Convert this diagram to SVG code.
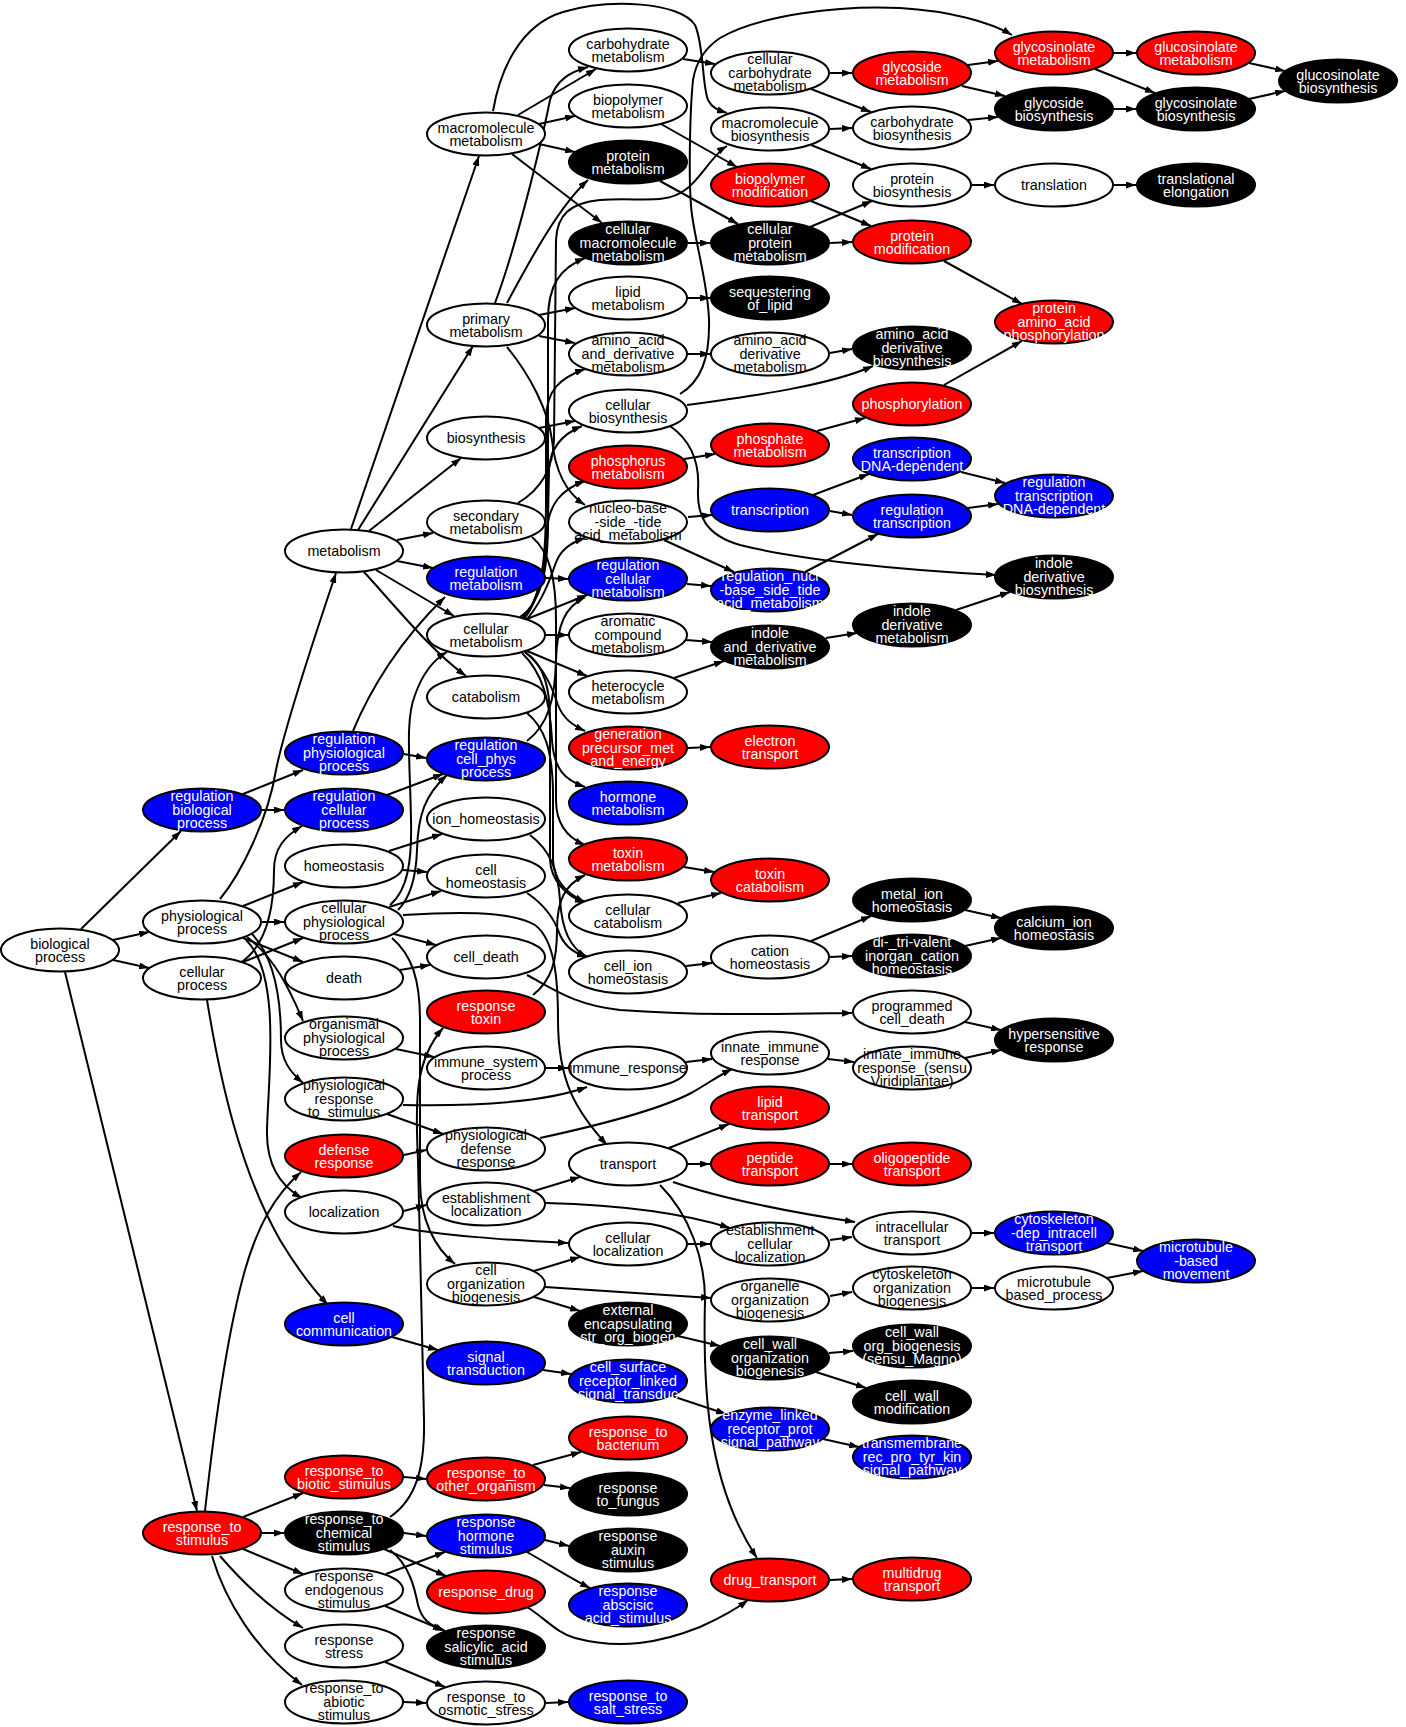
<svg xmlns="http://www.w3.org/2000/svg" width="1406" height="1727" viewBox="0 0 1406 1727">
<defs>
<marker id="ah" viewBox="0 0 10 7" refX="10" refY="3.5" markerWidth="10" markerHeight="7" orient="auto" markerUnits="userSpaceOnUse"><path d="M0,0 L10,3.5 L0,7 z" fill="#000"/></marker>
</defs>
<style>
.e path{fill:none;stroke:#000;stroke-width:2;marker-end:url(#ah)}
ellipse{stroke:#000;stroke-width:2}
.w ellipse{fill:#fff}.r ellipse{fill:#f00}.b ellipse{fill:#00f}.k ellipse{fill:#000}
text{font-family:"Liberation Sans",Arial,sans-serif;font-size:14.3px;text-anchor:middle}
.w text{fill:#000}.r text,.b text,.k text{fill:#fff}
</style>
<rect width="1406" height="1727" fill="#fff"/>
<g id="edges" class="e">
<path d="M81,929 L181,831"/>
<path d="M113,940 L149,932"/>
<path d="M113,960 L149,968"/>
<path d="M65,972 L197,1511"/>
<path d="M243,794 L303,770"/>
<path d="M262,810 L284,810"/>
<path d="M220,899 C240,875 268,820 276,770 C282,740 300,680 336,573"/>
<path d="M243,906 L303,882"/>
<path d="M262,922 L284,922"/>
<path d="M243,938 L303,962"/>
<path d="M247,937 C275,958 290,990 303,1021"/>
<path d="M252,934 C272,955 281,990 281,1040 C281,1060 290,1072 303,1083"/>
<path d="M246,940 C282,975 268,1080 267,1130 C266,1170 284,1188 302,1198"/>
<path d="M243,962 L303,938"/>
<path d="M240,963 C268,945 274,905 274,870 C274,848 285,836 302,826"/>
<path d="M207,1000 C220,1080 240,1170 280,1240 C295,1265 312,1288 328,1305"/>
<path d="M205,1511 C215,1420 228,1330 245,1270 C258,1225 275,1195 301,1172"/>
<path d="M389,851 L442,834"/>
<path d="M403,870 L427,872"/>
<path d="M389,907 L441,891"/>
<path d="M394,934 L436,945"/>
<path d="M390,905 C408,890 412,860 411,820 C410,760 405,720 415,695 C422,675 433,660 447,652"/>
<path d="M392,938 C412,955 420,980 420,1020 L420,1180 C420,1220 435,1248 455,1264"/>
<path d="M403,915 C450,912 510,910 535,925 C555,940 558,980 558,1020 C558,1080 575,1110 607,1145"/>
<path d="M400,970 L430,965"/>
<path d="M396,1049 L434,1057"/>
<path d="M403,1105 C460,1106 540,1104 587,1087"/>
<path d="M387,1114 L443,1134"/>
<path d="M404,1155 L426,1150"/>
<path d="M404,1211 L426,1205"/>
<path d="M393,1226 C440,1236 510,1240 568,1243"/>
<path d="M534,1191 L580,1177"/>
<path d="M546,1203 C620,1205 680,1212 730,1228"/>
<path d="M688,1244 L710,1244"/>
<path d="M534,1271 L580,1257"/>
<path d="M545,1287 L711,1298"/>
<path d="M534,1297 L580,1311"/>
<path d="M678,1336 L720,1346"/>
<path d="M829,1353 L853,1351"/>
<path d="M816,1372 L866,1388"/>
<path d="M392,1337 L438,1350"/>
<path d="M543,1370 L571,1374"/>
<path d="M672,1396 L726,1414"/>
<path d="M823,1439 L859,1447"/>
<path d="M243,1517 L303,1493"/>
<path d="M262,1533 L284,1533"/>
<path d="M243,1549 L303,1574"/>
<path d="M220,1556 C245,1585 272,1610 303,1628"/>
<path d="M212,1556 C225,1600 255,1650 302,1685"/>
<path d="M404,1477 L426,1479"/>
<path d="M533,1465 L581,1452"/>
<path d="M544,1485 L570,1488"/>
<path d="M404,1533 L426,1536"/>
<path d="M384,1549 L446,1576"/>
<path d="M390,1550 C410,1565 415,1590 418,1605 C422,1620 430,1625 443,1630"/>
<path d="M390,1517 C415,1500 425,1470 424,1420 L418,1160 C415,1100 415,1060 443,1028"/>
<path d="M386,1574 L445,1552"/>
<path d="M385,1606 L445,1631"/>
<path d="M385,1662 L445,1687"/>
<path d="M404,1702 L426,1703"/>
<path d="M546,1703 L568,1702"/>
<path d="M545,1540 L569,1546"/>
<path d="M527,1552 C550,1565 570,1578 590,1588"/>
<path d="M527,1607 C545,1618 555,1632 575,1638 C620,1650 660,1643 700,1627 C720,1618 735,1610 748,1600"/>
<path d="M830,1580 L852,1579"/>
<path d="M660,1185 C690,1215 705,1260 705,1300 C703,1380 705,1480 757,1558"/>
<path d="M669,1148 L729,1124"/>
<path d="M688,1164 L710,1164"/>
<path d="M673,1182 C720,1198 790,1212 855,1222"/>
<path d="M830,1164 L852,1164"/>
<path d="M830,1240 L852,1237"/>
<path d="M972,1233 L994,1233"/>
<path d="M1107,1243 L1143,1251"/>
<path d="M830,1296 L852,1292"/>
<path d="M972,1288 L994,1288"/>
<path d="M1107,1278 L1143,1271"/>
<path d="M546,1068 L568,1068"/>
<path d="M686,1062 L712,1059"/>
<path d="M540,1138 C600,1125 660,1110 693,1092 C710,1082 720,1075 732,1069"/>
<path d="M828,1059 L854,1062"/>
<path d="M965,1058 L1001,1050"/>
<path d="M965,1022 L1001,1030"/>
<path d="M527,975 C555,990 575,1005 620,1010 C700,1016 780,1014 852,1013"/>
<path d="M527,893 C545,905 555,920 560,935 C566,948 575,953 587,957"/>
<path d="M530,835 C550,850 558,870 560,900 C562,930 570,948 587,957"/>
<path d="M686,966 L712,963"/>
<path d="M811,941 L871,916"/>
<path d="M830,957 L852,956"/>
<path d="M965,910 L1001,918"/>
<path d="M965,946 L1001,938"/>
<path d="M684,867 L714,872"/>
<path d="M678,903 L721,893"/>
<path d="M527,713 C545,728 552,750 553,790 L553,860 C554,880 565,893 585,902"/>
<path d="M525,652 C545,665 550,690 550,720 L550,860 C551,880 565,895 585,903"/>
<path d="M533,995 C552,980 557,960 557,930 C557,900 565,885 585,875"/>
<path d="M518,115 L596,69"/>
<path d="M539,124 L575,116"/>
<path d="M539,144 L575,152"/>
<path d="M512,154 L602,223"/>
<path d="M493,111 C500,70 520,25 563,12 C610,-2 680,2 695,25 C704,45 702,85 708,100 C712,108 718,110 727,113"/>
<path d="M495,303 C515,250 540,150 550,100 C556,80 570,72 588,67"/>
<path d="M507,303 C530,260 560,205 588,180"/>
<path d="M539,315 L575,308"/>
<path d="M539,336 L575,343"/>
<path d="M507,347 C530,375 548,410 552,440 C555,470 565,492 585,505"/>
<path d="M539,428 L575,421"/>
<path d="M518,503 C540,490 553,470 554,440 L556,240 C557,215 570,203 600,200 C640,197 665,205 685,190 C700,180 712,155 727,146"/>
<path d="M680,394 C700,382 710,360 709,320 C708,285 697,250 692,215 C688,185 690,110 693,80 C696,62 705,48 720,38 C760,15 840,5 900,8 C950,11 990,22 1012,35"/>
<path d="M683,59 L715,64"/>
<path d="M661,124 L737,167"/>
<path d="M660,181 L738,224"/>
<path d="M688,243 L710,243"/>
<path d="M688,298 L710,298"/>
<path d="M688,354 L710,354"/>
<path d="M830,353 L852,349"/>
<path d="M687,405 C760,395 830,385 873,366"/>
<path d="M670,426 C690,440 700,460 698,490 C697,515 705,535 740,545 C800,560 900,570 996,575"/>
<path d="M520,617 C545,600 548,560 548,520 L548,320 C548,285 560,268 585,258"/>
<path d="M522,618 C542,600 546,560 546,500 L546,420 C546,390 560,378 585,369"/>
<path d="M523,619 C541,600 547,560 548,520 L549,470 C550,445 565,433 582,426"/>
<path d="M524,619 C540,600 545,560 547,530 C549,505 560,490 585,481"/>
<path d="M526,620 C540,605 550,580 555,565 C560,550 570,543 585,538"/>
<path d="M527,619 L587,595"/>
<path d="M546,635 L568,635"/>
<path d="M527,651 L587,676"/>
<path d="M525,652 C545,668 553,690 558,705 C563,718 572,725 585,731"/>
<path d="M522,653 C542,672 550,700 552,740 C554,770 565,780 585,787"/>
<path d="M532,537 C550,552 556,580 556,620 L556,800 C556,825 568,838 585,845"/>
<path d="M546,578 L568,579"/>
<path d="M527,741 C548,725 555,700 556,660 C557,625 565,607 585,597"/>
<path d="M687,584 L711,586"/>
<path d="M664,540 L734,572"/>
<path d="M688,517 L712,515"/>
<path d="M813,495 L869,474"/>
<path d="M830,511 L852,515"/>
<path d="M805,572 L878,534"/>
<path d="M961,472 L1005,483"/>
<path d="M968,508 L998,504"/>
<path d="M684,459 L715,454"/>
<path d="M817,431 L865,418"/>
<path d="M944,385 L1022,341"/>
<path d="M944,261 L1022,304"/>
<path d="M810,227 L872,201"/>
<path d="M830,243 L852,242"/>
<path d="M811,201 L871,226"/>
<path d="M830,129 L852,128"/>
<path d="M811,145 L871,169"/>
<path d="M830,73 L852,73"/>
<path d="M811,89 L871,112"/>
<path d="M968,65 L998,61"/>
<path d="M962,86 L1005,96"/>
<path d="M968,120 L998,117"/>
<path d="M1114,53 L1136,53"/>
<path d="M1095,69 L1155,93"/>
<path d="M1114,109 L1136,109"/>
<path d="M1249,63 L1285,71"/>
<path d="M1249,99 L1285,91"/>
<path d="M972,185 L994,185"/>
<path d="M1114,185 L1136,185"/>
<path d="M686,640 L712,642"/>
<path d="M674,678 L724,661"/>
<path d="M826,638 L857,633"/>
<path d="M956,610 L1010,592"/>
<path d="M688,748 L710,747"/>
<path d="M351,529 L479,156"/>
<path d="M358,530 L473,346"/>
<path d="M369,531 L461,458"/>
<path d="M397,540 L433,533"/>
<path d="M397,561 L433,568"/>
<path d="M376,570 L454,616"/>
<path d="M364,572 C390,600 430,650 466,676"/>
<path d="M353,731 C370,690 400,640 445,597"/>
<path d="M404,754 L426,758"/>
<path d="M387,795 L443,774"/>
<path d="M398,910 C410,898 416,880 417,850 C418,815 425,795 447,775"/>
</g>
<g id="n_bp" class="w"><ellipse cx="60" cy="950" rx="59" ry="21.5"/><text><tspan x="60" y="948.8">biological</tspan><tspan x="60" y="962.1">process</tspan></text></g>
<g id="n_rbp" class="b"><ellipse cx="202" cy="810" rx="59" ry="21.5"/><text><tspan x="202" y="801.2">regulation</tspan><tspan x="202" y="814.5">biological</tspan><tspan x="202" y="827.8">process</tspan></text></g>
<g id="n_pp" class="w"><ellipse cx="202" cy="922" rx="59" ry="21.5"/><text><tspan x="202" y="920.8">physiological</tspan><tspan x="202" y="934.1">process</tspan></text></g>
<g id="n_cp" class="w"><ellipse cx="202" cy="978" rx="59" ry="21.5"/><text><tspan x="202" y="976.8">cellular</tspan><tspan x="202" y="990.1">process</tspan></text></g>
<g id="n_rts" class="r"><ellipse cx="202" cy="1533" rx="59" ry="21.5"/><text><tspan x="202" y="1531.8">response_to</tspan><tspan x="202" y="1545.1">stimulus</tspan></text></g>
<g id="n_met" class="w"><ellipse cx="344" cy="551" rx="59" ry="21.5"/><text x="344" y="556">metabolism</text></g>
<g id="n_rpp" class="b"><ellipse cx="344" cy="753" rx="59" ry="21.5"/><text><tspan x="344" y="744.2">regulation</tspan><tspan x="344" y="757.5">physiological</tspan><tspan x="344" y="770.8">process</tspan></text></g>
<g id="n_rcp" class="b"><ellipse cx="344" cy="810" rx="59" ry="21.5"/><text><tspan x="344" y="801.2">regulation</tspan><tspan x="344" y="814.5">cellular</tspan><tspan x="344" y="827.8">process</tspan></text></g>
<g id="n_hom" class="w"><ellipse cx="344" cy="866" rx="59" ry="21.5"/><text x="344" y="871">homeostasis</text></g>
<g id="n_cpp" class="w"><ellipse cx="344" cy="922" rx="59" ry="21.5"/><text><tspan x="344" y="913.2">cellular</tspan><tspan x="344" y="926.5">physiological</tspan><tspan x="344" y="939.8">process</tspan></text></g>
<g id="n_death" class="w"><ellipse cx="344" cy="978" rx="59" ry="21.5"/><text x="344" y="983">death</text></g>
<g id="n_opp" class="w"><ellipse cx="344" cy="1038" rx="59" ry="21.5"/><text><tspan x="344" y="1029.2">organismal</tspan><tspan x="344" y="1042.5">physiological</tspan><tspan x="344" y="1055.8">process</tspan></text></g>
<g id="n_prs" class="w"><ellipse cx="344" cy="1099" rx="59" ry="21.5"/><text><tspan x="344" y="1090.2">physiological</tspan><tspan x="344" y="1103.5">response</tspan><tspan x="344" y="1116.8">to_stimulus</tspan></text></g>
<g id="n_dr" class="r"><ellipse cx="344" cy="1156" rx="59" ry="21.5"/><text><tspan x="344" y="1154.8">defense</tspan><tspan x="344" y="1168.1">response</tspan></text></g>
<g id="n_loc" class="w"><ellipse cx="344" cy="1212" rx="59" ry="21.5"/><text x="344" y="1217">localization</text></g>
<g id="n_cc" class="b"><ellipse cx="344" cy="1324" rx="59" ry="21.5"/><text><tspan x="344" y="1322.8">cell</tspan><tspan x="344" y="1336.1">communication</tspan></text></g>
<g id="n_rbs" class="r"><ellipse cx="344" cy="1477" rx="59" ry="21.5"/><text><tspan x="344" y="1475.8">response_to</tspan><tspan x="344" y="1489.1">biotic_stimulus</tspan></text></g>
<g id="n_rcs" class="k"><ellipse cx="344" cy="1533" rx="59" ry="21.5"/><text><tspan x="344" y="1524.2">response_to</tspan><tspan x="344" y="1537.5">chemical</tspan><tspan x="344" y="1550.8">stimulus</tspan></text></g>
<g id="n_res" class="w"><ellipse cx="344" cy="1590" rx="59" ry="21.5"/><text><tspan x="344" y="1581.2">response</tspan><tspan x="344" y="1594.5">endogenous</tspan><tspan x="344" y="1607.8">stimulus</tspan></text></g>
<g id="n_rstr" class="w"><ellipse cx="344" cy="1646" rx="59" ry="21.5"/><text><tspan x="344" y="1644.8">response</tspan><tspan x="344" y="1658.1">stress</tspan></text></g>
<g id="n_ras" class="w"><ellipse cx="344" cy="1702" rx="59" ry="21.5"/><text><tspan x="344" y="1693.2">response_to</tspan><tspan x="344" y="1706.5">abiotic</tspan><tspan x="344" y="1719.8">stimulus</tspan></text></g>
<g id="n_mm" class="w"><ellipse cx="486" cy="134" rx="59" ry="21.5"/><text><tspan x="486" y="132.8">macromolecule</tspan><tspan x="486" y="146.1">metabolism</tspan></text></g>
<g id="n_prm" class="w"><ellipse cx="486" cy="325" rx="59" ry="21.5"/><text><tspan x="486" y="323.8">primary</tspan><tspan x="486" y="337.1">metabolism</tspan></text></g>
<g id="n_bios" class="w"><ellipse cx="486" cy="438" rx="59" ry="21.5"/><text x="486" y="443">biosynthesis</text></g>
<g id="n_sm" class="w"><ellipse cx="486" cy="522" rx="59" ry="21.5"/><text><tspan x="486" y="520.8">secondary</tspan><tspan x="486" y="534.1">metabolism</tspan></text></g>
<g id="n_rm" class="b"><ellipse cx="486" cy="578" rx="59" ry="21.5"/><text><tspan x="486" y="576.8">regulation</tspan><tspan x="486" y="590.1">metabolism</tspan></text></g>
<g id="n_cm" class="w"><ellipse cx="486" cy="635" rx="59" ry="21.5"/><text><tspan x="486" y="633.8">cellular</tspan><tspan x="486" y="647.1">metabolism</tspan></text></g>
<g id="n_cat" class="w"><ellipse cx="486" cy="697" rx="59" ry="21.5"/><text x="486" y="702">catabolism</text></g>
<g id="n_rcpp" class="b"><ellipse cx="486" cy="759" rx="59" ry="21.5"/><text><tspan x="486" y="750.2">regulation</tspan><tspan x="486" y="763.5">cell_phys</tspan><tspan x="486" y="776.8">process</tspan></text></g>
<g id="n_ionh" class="w"><ellipse cx="486" cy="819" rx="59" ry="21.5"/><text x="486" y="824">ion_homeostasis</text></g>
<g id="n_ch" class="w"><ellipse cx="486" cy="876" rx="59" ry="21.5"/><text><tspan x="486" y="874.8">cell</tspan><tspan x="486" y="888.1">homeostasis</tspan></text></g>
<g id="n_cd" class="w"><ellipse cx="486" cy="957" rx="59" ry="21.5"/><text x="486" y="962">cell_death</text></g>
<g id="n_rt" class="r"><ellipse cx="486" cy="1012" rx="59" ry="21.5"/><text><tspan x="486" y="1010.8">response</tspan><tspan x="486" y="1024.1">toxin</tspan></text></g>
<g id="n_isp" class="w"><ellipse cx="486" cy="1068" rx="59" ry="21.5"/><text><tspan x="486" y="1066.8">immune_system</tspan><tspan x="486" y="1080.1">process</tspan></text></g>
<g id="n_pdr" class="w"><ellipse cx="486" cy="1149" rx="59" ry="21.5"/><text><tspan x="486" y="1140.2">physiological</tspan><tspan x="486" y="1153.5">defense</tspan><tspan x="486" y="1166.8">response</tspan></text></g>
<g id="n_el" class="w"><ellipse cx="486" cy="1204" rx="59" ry="21.5"/><text><tspan x="486" y="1202.8">establishment</tspan><tspan x="486" y="1216.1">localization</tspan></text></g>
<g id="n_cob" class="w"><ellipse cx="486" cy="1284" rx="59" ry="21.5"/><text><tspan x="486" y="1275.2">cell</tspan><tspan x="486" y="1288.5">organization</tspan><tspan x="486" y="1301.8">biogenesis</tspan></text></g>
<g id="n_st" class="b"><ellipse cx="486" cy="1363" rx="59" ry="21.5"/><text><tspan x="486" y="1361.8">signal</tspan><tspan x="486" y="1375.1">transduction</tspan></text></g>
<g id="n_roo" class="r"><ellipse cx="486" cy="1479" rx="59" ry="21.5"/><text><tspan x="486" y="1477.8">response_to</tspan><tspan x="486" y="1491.1">other_organism</tspan></text></g>
<g id="n_rhs" class="b"><ellipse cx="486" cy="1536" rx="59" ry="21.5"/><text><tspan x="486" y="1527.2">response</tspan><tspan x="486" y="1540.5">hormone</tspan><tspan x="486" y="1553.8">stimulus</tspan></text></g>
<g id="n_rd" class="r"><ellipse cx="486" cy="1592" rx="59" ry="21.5"/><text x="486" y="1597">response_drug</text></g>
<g id="n_rsa" class="k"><ellipse cx="486" cy="1647" rx="59" ry="21.5"/><text><tspan x="486" y="1638.2">response</tspan><tspan x="486" y="1651.5">salicylic_acid</tspan><tspan x="486" y="1664.8">stimulus</tspan></text></g>
<g id="n_ros" class="w"><ellipse cx="486" cy="1703" rx="59" ry="21.5"/><text><tspan x="486" y="1701.8">response_to</tspan><tspan x="486" y="1715.1">osmotic_stress</tspan></text></g>
<g id="n_carbm" class="w"><ellipse cx="628" cy="50" rx="59" ry="21.5"/><text><tspan x="628" y="48.8">carbohydrate</tspan><tspan x="628" y="62.1">metabolism</tspan></text></g>
<g id="n_bpm" class="w"><ellipse cx="628" cy="106" rx="59" ry="21.5"/><text><tspan x="628" y="104.8">biopolymer</tspan><tspan x="628" y="118.1">metabolism</tspan></text></g>
<g id="n_protm" class="k"><ellipse cx="628" cy="162" rx="59" ry="21.5"/><text><tspan x="628" y="160.8">protein</tspan><tspan x="628" y="174.1">metabolism</tspan></text></g>
<g id="n_cmm" class="k"><ellipse cx="628" cy="243" rx="59" ry="21.5"/><text><tspan x="628" y="234.2">cellular</tspan><tspan x="628" y="247.5">macromolecule</tspan><tspan x="628" y="260.8">metabolism</tspan></text></g>
<g id="n_lipm" class="w"><ellipse cx="628" cy="298" rx="59" ry="21.5"/><text><tspan x="628" y="296.8">lipid</tspan><tspan x="628" y="310.1">metabolism</tspan></text></g>
<g id="n_aadm" class="w"><ellipse cx="628" cy="354" rx="59" ry="21.5"/><text><tspan x="628" y="345.2">amino_acid</tspan><tspan x="628" y="358.5">and_derivative</tspan><tspan x="628" y="371.8">metabolism</tspan></text></g>
<g id="n_cbios" class="w"><ellipse cx="628" cy="411" rx="59" ry="21.5"/><text><tspan x="628" y="409.8">cellular</tspan><tspan x="628" y="423.1">biosynthesis</tspan></text></g>
<g id="n_phosm" class="r"><ellipse cx="628" cy="467" rx="59" ry="21.5"/><text><tspan x="628" y="465.8">phosphorus</tspan><tspan x="628" y="479.1">metabolism</tspan></text></g>
<g id="n_nuc" class="w"><ellipse cx="628" cy="522" rx="59" ry="21.5"/><text><tspan x="628" y="513.2">nucleo-base</tspan><tspan x="628" y="526.5">-side_-tide</tspan><tspan x="628" y="539.8">acid_metabolism</tspan></text></g>
<g id="n_rcm" class="b"><ellipse cx="628" cy="579" rx="59" ry="21.5"/><text><tspan x="628" y="570.2">regulation</tspan><tspan x="628" y="583.5">cellular</tspan><tspan x="628" y="596.8">metabolism</tspan></text></g>
<g id="n_arom" class="w"><ellipse cx="628" cy="635" rx="59" ry="21.5"/><text><tspan x="628" y="626.2">aromatic</tspan><tspan x="628" y="639.5">compound</tspan><tspan x="628" y="652.8">metabolism</tspan></text></g>
<g id="n_het" class="w"><ellipse cx="628" cy="692" rx="59" ry="21.5"/><text><tspan x="628" y="690.8">heterocycle</tspan><tspan x="628" y="704.1">metabolism</tspan></text></g>
<g id="n_gen" class="r"><ellipse cx="628" cy="748" rx="59" ry="21.5"/><text><tspan x="628" y="739.2">generation</tspan><tspan x="628" y="752.5">precursor_met</tspan><tspan x="628" y="765.8">and_energy</tspan></text></g>
<g id="n_horm" class="b"><ellipse cx="628" cy="803" rx="59" ry="21.5"/><text><tspan x="628" y="801.8">hormone</tspan><tspan x="628" y="815.1">metabolism</tspan></text></g>
<g id="n_toxm" class="r"><ellipse cx="628" cy="859" rx="59" ry="21.5"/><text><tspan x="628" y="857.8">toxin</tspan><tspan x="628" y="871.1">metabolism</tspan></text></g>
<g id="n_ccat" class="w"><ellipse cx="628" cy="916" rx="59" ry="21.5"/><text><tspan x="628" y="914.8">cellular</tspan><tspan x="628" y="928.1">catabolism</tspan></text></g>
<g id="n_cih" class="w"><ellipse cx="628" cy="972" rx="59" ry="21.5"/><text><tspan x="628" y="970.8">cell_ion</tspan><tspan x="628" y="984.1">homeostasis</tspan></text></g>
<g id="n_ir" class="w"><ellipse cx="628" cy="1068" rx="59" ry="21.5"/><text x="628" y="1073">immune_response</text></g>
<g id="n_tr" class="w"><ellipse cx="628" cy="1164" rx="59" ry="21.5"/><text x="628" y="1169">transport</text></g>
<g id="n_cl" class="w"><ellipse cx="628" cy="1244" rx="59" ry="21.5"/><text><tspan x="628" y="1242.8">cellular</tspan><tspan x="628" y="1256.1">localization</tspan></text></g>
<g id="n_ees" class="k"><ellipse cx="628" cy="1324" rx="59" ry="21.5"/><text><tspan x="628" y="1315.2">external</tspan><tspan x="628" y="1328.5">encapsulating</tspan><tspan x="628" y="1341.8">str_org_biogen</tspan></text></g>
<g id="n_csr" class="b"><ellipse cx="628" cy="1381" rx="59" ry="21.5"/><text><tspan x="628" y="1372.2">cell_surface</tspan><tspan x="628" y="1385.5">receptor_linked</tspan><tspan x="628" y="1398.8">signal_transduc</tspan></text></g>
<g id="n_rtb" class="r"><ellipse cx="628" cy="1438" rx="59" ry="21.5"/><text><tspan x="628" y="1436.8">response_to</tspan><tspan x="628" y="1450.1">bacterium</tspan></text></g>
<g id="n_rtf" class="k"><ellipse cx="628" cy="1494" rx="59" ry="21.5"/><text><tspan x="628" y="1492.8">response</tspan><tspan x="628" y="1506.1">to_fungus</tspan></text></g>
<g id="n_rax" class="k"><ellipse cx="628" cy="1550" rx="59" ry="21.5"/><text><tspan x="628" y="1541.2">response</tspan><tspan x="628" y="1554.5">auxin</tspan><tspan x="628" y="1567.8">stimulus</tspan></text></g>
<g id="n_raba" class="b"><ellipse cx="628" cy="1605" rx="59" ry="21.5"/><text><tspan x="628" y="1596.2">response</tspan><tspan x="628" y="1609.5">abscisic</tspan><tspan x="628" y="1622.8">acid_stimulus</tspan></text></g>
<g id="n_rss" class="b"><ellipse cx="628" cy="1702" rx="59" ry="21.5"/><text><tspan x="628" y="1700.8">response_to</tspan><tspan x="628" y="1714.1">salt_stress</tspan></text></g>
<g id="n_ccm" class="w"><ellipse cx="770" cy="73" rx="59" ry="21.5"/><text><tspan x="770" y="64.2">cellular</tspan><tspan x="770" y="77.5">carbohydrate</tspan><tspan x="770" y="90.8">metabolism</tspan></text></g>
<g id="n_mb" class="w"><ellipse cx="770" cy="129" rx="59" ry="21.5"/><text><tspan x="770" y="127.8">macromolecule</tspan><tspan x="770" y="141.1">biosynthesis</tspan></text></g>
<g id="n_bpmod" class="r"><ellipse cx="770" cy="185" rx="59" ry="21.5"/><text><tspan x="770" y="183.8">biopolymer</tspan><tspan x="770" y="197.1">modification</tspan></text></g>
<g id="n_cprm" class="k"><ellipse cx="770" cy="243" rx="59" ry="21.5"/><text><tspan x="770" y="234.2">cellular</tspan><tspan x="770" y="247.5">protein</tspan><tspan x="770" y="260.8">metabolism</tspan></text></g>
<g id="n_seq" class="k"><ellipse cx="770" cy="298" rx="59" ry="21.5"/><text><tspan x="770" y="296.8">sequestering</tspan><tspan x="770" y="310.1">of_lipid</tspan></text></g>
<g id="n_aaderm" class="w"><ellipse cx="770" cy="354" rx="59" ry="21.5"/><text><tspan x="770" y="345.2">amino_acid</tspan><tspan x="770" y="358.5">derivative</tspan><tspan x="770" y="371.8">metabolism</tspan></text></g>
<g id="n_phm" class="r"><ellipse cx="770" cy="445" rx="59" ry="21.5"/><text><tspan x="770" y="443.8">phosphate</tspan><tspan x="770" y="457.1">metabolism</tspan></text></g>
<g id="n_trn" class="b"><ellipse cx="770" cy="510" rx="59" ry="21.5"/><text x="770" y="515">transcription</text></g>
<g id="n_rnuc" class="b"><ellipse cx="770" cy="590" rx="59" ry="21.5"/><text><tspan x="770" y="581.2">regulation_nucl</tspan><tspan x="770" y="594.5">-base_side_tide</tspan><tspan x="770" y="607.8">acid_metabolism</tspan></text></g>
<g id="n_ind" class="k"><ellipse cx="770" cy="647" rx="59" ry="21.5"/><text><tspan x="770" y="638.2">indole</tspan><tspan x="770" y="651.5">and_derivative</tspan><tspan x="770" y="664.8">metabolism</tspan></text></g>
<g id="n_et" class="r"><ellipse cx="770" cy="747" rx="59" ry="21.5"/><text><tspan x="770" y="745.8">electron</tspan><tspan x="770" y="759.1">transport</tspan></text></g>
<g id="n_tc" class="r"><ellipse cx="770" cy="880" rx="59" ry="21.5"/><text><tspan x="770" y="878.8">toxin</tspan><tspan x="770" y="892.1">catabolism</tspan></text></g>
<g id="n_cath" class="w"><ellipse cx="770" cy="957" rx="59" ry="21.5"/><text><tspan x="770" y="955.8">cation</tspan><tspan x="770" y="969.1">homeostasis</tspan></text></g>
<g id="n_iir" class="w"><ellipse cx="770" cy="1053" rx="59" ry="21.5"/><text><tspan x="770" y="1051.8">innate_immune</tspan><tspan x="770" y="1065.1">response</tspan></text></g>
<g id="n_lt" class="r"><ellipse cx="770" cy="1108" rx="59" ry="21.5"/><text><tspan x="770" y="1106.8">lipid</tspan><tspan x="770" y="1120.1">transport</tspan></text></g>
<g id="n_pt" class="r"><ellipse cx="770" cy="1164" rx="59" ry="21.5"/><text><tspan x="770" y="1162.8">peptide</tspan><tspan x="770" y="1176.1">transport</tspan></text></g>
<g id="n_ecl" class="w"><ellipse cx="770" cy="1244" rx="59" ry="21.5"/><text><tspan x="770" y="1235.2">establishment</tspan><tspan x="770" y="1248.5">cellular</tspan><tspan x="770" y="1261.8">localization</tspan></text></g>
<g id="n_oob" class="w"><ellipse cx="770" cy="1300" rx="59" ry="21.5"/><text><tspan x="770" y="1291.2">organelle</tspan><tspan x="770" y="1304.5">organization</tspan><tspan x="770" y="1317.8">biogenesis</tspan></text></g>
<g id="n_cwob" class="k"><ellipse cx="770" cy="1358" rx="59" ry="21.5"/><text><tspan x="770" y="1349.2">cell_wall</tspan><tspan x="770" y="1362.5">organization</tspan><tspan x="770" y="1375.8">biogenesis</tspan></text></g>
<g id="n_elr" class="b"><ellipse cx="770" cy="1429" rx="59" ry="21.5"/><text><tspan x="770" y="1420.2">enzyme_linked</tspan><tspan x="770" y="1433.5">receptor_prot</tspan><tspan x="770" y="1446.8">signal_pathway</tspan></text></g>
<g id="n_dt" class="r"><ellipse cx="770" cy="1580" rx="59" ry="21.5"/><text x="770" y="1585">drug_transport</text></g>
<g id="n_gm" class="r"><ellipse cx="912" cy="73" rx="59" ry="21.5"/><text><tspan x="912" y="71.8">glycoside</tspan><tspan x="912" y="85.1">metabolism</tspan></text></g>
<g id="n_cb" class="w"><ellipse cx="912" cy="128" rx="59" ry="21.5"/><text><tspan x="912" y="126.8">carbohydrate</tspan><tspan x="912" y="140.1">biosynthesis</tspan></text></g>
<g id="n_pb" class="w"><ellipse cx="912" cy="185" rx="59" ry="21.5"/><text><tspan x="912" y="183.8">protein</tspan><tspan x="912" y="197.1">biosynthesis</tspan></text></g>
<g id="n_pmod" class="r"><ellipse cx="912" cy="242" rx="59" ry="21.5"/><text><tspan x="912" y="240.8">protein</tspan><tspan x="912" y="254.1">modification</tspan></text></g>
<g id="n_aadb" class="k"><ellipse cx="912" cy="348" rx="59" ry="21.5"/><text><tspan x="912" y="339.2">amino_acid</tspan><tspan x="912" y="352.5">derivative</tspan><tspan x="912" y="365.8">biosynthesis</tspan></text></g>
<g id="n_phos" class="r"><ellipse cx="912" cy="404" rx="59" ry="21.5"/><text x="912" y="409">phosphorylation</text></g>
<g id="n_tdd" class="b"><ellipse cx="912" cy="459" rx="59" ry="21.5"/><text><tspan x="912" y="457.8">transcription</tspan><tspan x="912" y="471.1">DNA-dependent</tspan></text></g>
<g id="n_rtr" class="b"><ellipse cx="912" cy="516" rx="59" ry="21.5"/><text><tspan x="912" y="514.8">regulation</tspan><tspan x="912" y="528.1">transcription</tspan></text></g>
<g id="n_idm" class="k"><ellipse cx="912" cy="625" rx="59" ry="21.5"/><text><tspan x="912" y="616.2">indole</tspan><tspan x="912" y="629.5">derivative</tspan><tspan x="912" y="642.8">metabolism</tspan></text></g>
<g id="n_mih" class="k"><ellipse cx="912" cy="900" rx="59" ry="21.5"/><text><tspan x="912" y="898.8">metal_ion</tspan><tspan x="912" y="912.1">homeostasis</tspan></text></g>
<g id="n_dtv" class="k"><ellipse cx="912" cy="956" rx="59" ry="21.5"/><text><tspan x="912" y="947.2">di-_tri-valent</tspan><tspan x="912" y="960.5">inorgan_cation</tspan><tspan x="912" y="973.8">homeostasis</tspan></text></g>
<g id="n_pcd" class="w"><ellipse cx="912" cy="1012" rx="59" ry="21.5"/><text><tspan x="912" y="1010.8">programmed</tspan><tspan x="912" y="1024.1">cell_death</tspan></text></g>
<g id="n_iirs" class="w"><ellipse cx="912" cy="1068" rx="59" ry="21.5"/><text><tspan x="912" y="1059.2">innate_immune</tspan><tspan x="912" y="1072.5">response_(sensu</tspan><tspan x="912" y="1085.8">Viridiplantae)</tspan></text></g>
<g id="n_olig" class="r"><ellipse cx="912" cy="1164" rx="59" ry="21.5"/><text><tspan x="912" y="1162.8">oligopeptide</tspan><tspan x="912" y="1176.1">transport</tspan></text></g>
<g id="n_ict" class="w"><ellipse cx="912" cy="1233" rx="59" ry="21.5"/><text><tspan x="912" y="1231.8">intracellular</tspan><tspan x="912" y="1245.1">transport</tspan></text></g>
<g id="n_cob2" class="w"><ellipse cx="912" cy="1288" rx="59" ry="21.5"/><text><tspan x="912" y="1279.2">cytoskeleton</tspan><tspan x="912" y="1292.5">organization</tspan><tspan x="912" y="1305.8">biogenesis</tspan></text></g>
<g id="n_cwsm" class="k"><ellipse cx="912" cy="1346" rx="59" ry="21.5"/><text><tspan x="912" y="1337.2">cell_wall</tspan><tspan x="912" y="1350.5">org_biogenesis</tspan><tspan x="912" y="1363.8">(sensu_Magno)</tspan></text></g>
<g id="n_cwm" class="k"><ellipse cx="912" cy="1402" rx="59" ry="21.5"/><text><tspan x="912" y="1400.8">cell_wall</tspan><tspan x="912" y="1414.1">modification</tspan></text></g>
<g id="n_tm" class="b"><ellipse cx="912" cy="1457" rx="59" ry="21.5"/><text><tspan x="912" y="1448.2">transmembrane</tspan><tspan x="912" y="1461.5">rec_pro_tyr_kin</tspan><tspan x="912" y="1474.8">signal_pathway</tspan></text></g>
<g id="n_mdt" class="r"><ellipse cx="912" cy="1579" rx="59" ry="21.5"/><text><tspan x="912" y="1577.8">multidrug</tspan><tspan x="912" y="1591.1">transport</tspan></text></g>
<g id="n_glym" class="r"><ellipse cx="1054" cy="53" rx="59" ry="21.5"/><text><tspan x="1054" y="51.8">glycosinolate</tspan><tspan x="1054" y="65.1">metabolism</tspan></text></g>
<g id="n_gb" class="k"><ellipse cx="1054" cy="109" rx="59" ry="21.5"/><text><tspan x="1054" y="107.8">glycoside</tspan><tspan x="1054" y="121.1">biosynthesis</tspan></text></g>
<g id="n_tl" class="w"><ellipse cx="1054" cy="185" rx="59" ry="21.5"/><text x="1054" y="190">translation</text></g>
<g id="n_paap" class="r"><ellipse cx="1054" cy="322" rx="59" ry="21.5"/><text><tspan x="1054" y="313.2">protein</tspan><tspan x="1054" y="326.5">amino_acid</tspan><tspan x="1054" y="339.8">phosphorylation</tspan></text></g>
<g id="n_rtdd" class="b"><ellipse cx="1054" cy="496" rx="59" ry="21.5"/><text><tspan x="1054" y="487.2">regulation</tspan><tspan x="1054" y="500.5">transcription</tspan><tspan x="1054" y="513.8">DNA-dependent</tspan></text></g>
<g id="n_idb" class="k"><ellipse cx="1054" cy="577" rx="59" ry="21.5"/><text><tspan x="1054" y="568.2">indole</tspan><tspan x="1054" y="581.5">derivative</tspan><tspan x="1054" y="594.8">biosynthesis</tspan></text></g>
<g id="n_cah" class="k"><ellipse cx="1054" cy="928" rx="59" ry="21.5"/><text><tspan x="1054" y="926.8">calcium_ion</tspan><tspan x="1054" y="940.1">homeostasis</tspan></text></g>
<g id="n_hr" class="k"><ellipse cx="1054" cy="1040" rx="59" ry="21.5"/><text><tspan x="1054" y="1038.8">hypersensitive</tspan><tspan x="1054" y="1052.1">response</tspan></text></g>
<g id="n_cdit" class="b"><ellipse cx="1054" cy="1233" rx="59" ry="21.5"/><text><tspan x="1054" y="1224.2">cytoskeleton</tspan><tspan x="1054" y="1237.5">-dep_intracell</tspan><tspan x="1054" y="1250.8">transport</tspan></text></g>
<g id="n_mbp" class="w"><ellipse cx="1054" cy="1288" rx="59" ry="21.5"/><text><tspan x="1054" y="1286.8">microtubule</tspan><tspan x="1054" y="1300.1">based_process</tspan></text></g>
<g id="n_glum" class="r"><ellipse cx="1196" cy="53" rx="59" ry="21.5"/><text><tspan x="1196" y="51.8">glucosinolate</tspan><tspan x="1196" y="65.1">metabolism</tspan></text></g>
<g id="n_glyb" class="k"><ellipse cx="1196" cy="109" rx="59" ry="21.5"/><text><tspan x="1196" y="107.8">glycosinolate</tspan><tspan x="1196" y="121.1">biosynthesis</tspan></text></g>
<g id="n_te" class="k"><ellipse cx="1196" cy="185" rx="59" ry="21.5"/><text><tspan x="1196" y="183.8">translational</tspan><tspan x="1196" y="197.1">elongation</tspan></text></g>
<g id="n_mbm" class="b"><ellipse cx="1196" cy="1261" rx="59" ry="21.5"/><text><tspan x="1196" y="1252.2">microtubule</tspan><tspan x="1196" y="1265.5">-based</tspan><tspan x="1196" y="1278.8">movement</tspan></text></g>
<g id="n_glub" class="k"><ellipse cx="1338" cy="81" rx="59" ry="21.5"/><text><tspan x="1338" y="79.8">glucosinolate</tspan><tspan x="1338" y="93.1">biosynthesis</tspan></text></g>
</svg>
